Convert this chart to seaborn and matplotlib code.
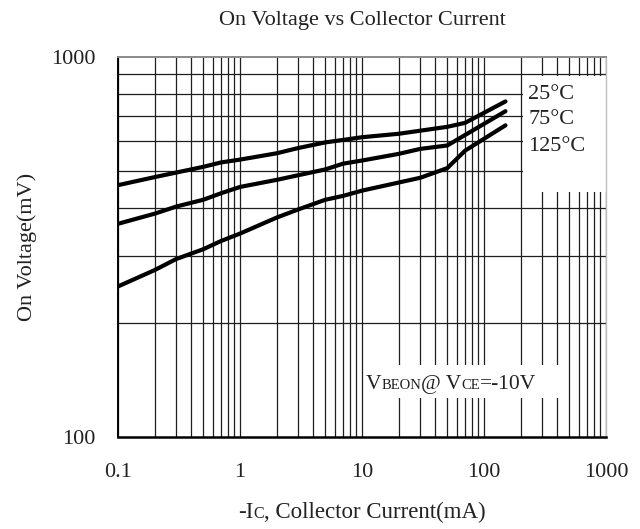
import numpy as np
import pandas as pd
import matplotlib
matplotlib.use("Agg")
import matplotlib.pyplot as plt
import seaborn as sns
from matplotlib.patches import Rectangle
from matplotlib.ticker import FixedLocator, FixedFormatter, NullFormatter

# ---------------- data ----------------
ic_25 = [0.1, 0.2, 0.5, 0.7, 1, 2, 3, 5, 7, 10, 20, 50, 70, 150]
von_25 = [460, 483, 514, 528, 537, 558, 576, 596, 605, 615, 628, 655, 671, 764]

ic_75 = [0.1, 0.2, 0.3, 0.5, 0.7, 1, 2, 5, 7, 10, 20, 30, 50, 150]
von_75 = [364, 387, 404, 421, 438, 455, 475, 506, 524, 534, 556, 573, 585, 720]

ic_125 = [0.1, 0.2, 0.3, 0.5, 0.7, 1, 2, 3, 5, 7, 10, 30, 50, 70, 150]
von_125 = [249, 275, 294, 312, 328, 343, 378, 397, 421, 431, 445, 481, 510, 567, 661]

temps = ["25°C", "75°C", "125°C"]

x_ticks = [0.1, 1, 10, 100, 1000]
x_tick_labels = ["0.1", "1", "10", "100", "1000"]
x_minor = [0.2, 0.3, 0.4, 0.5, 0.6, 0.7, 0.8, 0.9,
           2, 3, 4, 5, 6, 7, 8, 9,
           20, 30, 40, 50, 60, 70, 80, 90,
           200, 300, 400, 500, 600, 700, 800, 900]
y_ticks = [100, 1000]
y_tick_labels = ["100", "1000"]
y_minor = [200, 300, 400, 500, 600, 700, 800, 900]

title = "On Voltage vs Collector Current"
ylabel = "On Voltage(mV)"

# ---------------- build table ----------------
df = pd.concat([
    pd.DataFrame({"Ic": ic_25, "Von": von_25, "Temp": temps[0]}),
    pd.DataFrame({"Ic": ic_75, "Von": von_75, "Temp": temps[1]}),
    pd.DataFrame({"Ic": ic_125, "Von": von_125, "Temp": temps[2]}),
], ignore_index=True)

sns.set_theme(style="white")
plt.rcParams["font.family"] = ["Liberation Serif", "DejaVu Serif"]

W, H = 640, 529
fig = plt.figure(figsize=(W / 100, H / 100), dpi=100)
ax = fig.add_axes([118 / W, 1 - 437 / H, (606 - 118) / W, (437 - 57) / H])
ax.set_axisbelow(True)

sns.lineplot(data=df, x="Ic", y="Von", hue="Temp", palette=["black"] * 3,
             estimator=None, sort=False, linewidth=3.0, legend=False, ax=ax,
             solid_capstyle="round", zorder=3)

ax.set_xscale("log")
ax.set_yscale("log")
ax.set_xlim(0.1, 1000)
ax.set_ylim(100, 1000)

ax.xaxis.set_major_locator(FixedLocator(x_ticks))
ax.xaxis.set_major_formatter(FixedFormatter(x_tick_labels))
ax.xaxis.set_minor_locator(FixedLocator(x_minor))
ax.xaxis.set_minor_formatter(NullFormatter())
ax.yaxis.set_major_locator(FixedLocator(y_ticks))
ax.yaxis.set_major_formatter(FixedFormatter(y_tick_labels))
ax.yaxis.set_minor_locator(FixedLocator(y_minor))
ax.yaxis.set_minor_formatter(NullFormatter())

ax.grid(False)
ax.grid(which="both", axis="x", color="#1e1e1e", linewidth=0.9)
ax.grid(which="minor", axis="y", color="#1e1e1e", linewidth=0.9)

ax.tick_params(which="both", length=0)
ax.tick_params(axis="x", pad=19, labelsize=16, colors="#222222")
ax.tick_params(axis="y", pad=16, labelsize=16, colors="#222222")
ax.set_xlabel("")
ax.set_ylabel("")

for side, col, lw in [("left", "black", 1.4), ("bottom", "black", 1.8),
                      ("top", "#8a8a8a", 1.4), ("right", "#bdbdbd", 1.0)]:
    ax.spines[side].set_visible(True)
    ax.spines[side].set_color(col)
    ax.spines[side].set_linewidth(lw)

# white label boxes
ax.add_patch(Rectangle((210, 440), 1000 - 210, 893 - 440, facecolor="white",
                       edgecolor="none", zorder=1.5))
ax.add_patch(Rectangle((10.3, 127), 450 - 10.3, 155 - 127, facecolor="white",
                       edgecolor="none", zorder=1.5))

# curve labels
label_y = [796, 684, 582]
for t, yy in zip(temps, label_y):
    ax.text(231, yy, t, fontsize=16, va="center", ha="left", color="#222222", zorder=4)

# ---------- rich text helper (small capitals) ----------
renderer = fig.canvas.get_renderer()


def rich_text(pieces, x_px, y_px_top, align="left"):
    texts = []
    for s, size in pieces:
        t = fig.text(0, 0, s, fontsize=size, va="baseline", ha="left",
                     color="#222222", zorder=5)
        texts.append(t)
    widths = [t.get_window_extent(renderer).width for t in texts]
    total = sum(widths)
    cur = x_px - total / 2 if align == "center" else x_px
    for t, w in zip(texts, widths):
        t.set_position((cur / W, 1 - y_px_top / H))
        cur += w
    return texts


rich_text([("V", 15.5), ("BEON", 10.5), ("@ V", 15.5), ("CE", 10.5), ("=-10V", 15.5)],
          366, 389)
rich_text([("-I", 16.5), ("C", 11.5), (", Collector Current(mA)", 16.5)],
          362, 518, align="center")

fig.text(362 / W, 1 - 25 / H, title, fontsize=16, ha="center", va="baseline",
         color="#222222")
fig.text(27 / W, 1 - 247 / H, ylabel, fontsize=16, ha="center", va="center",
         rotation=90, color="#222222")

fig.savefig("out.png", dpi=100)
